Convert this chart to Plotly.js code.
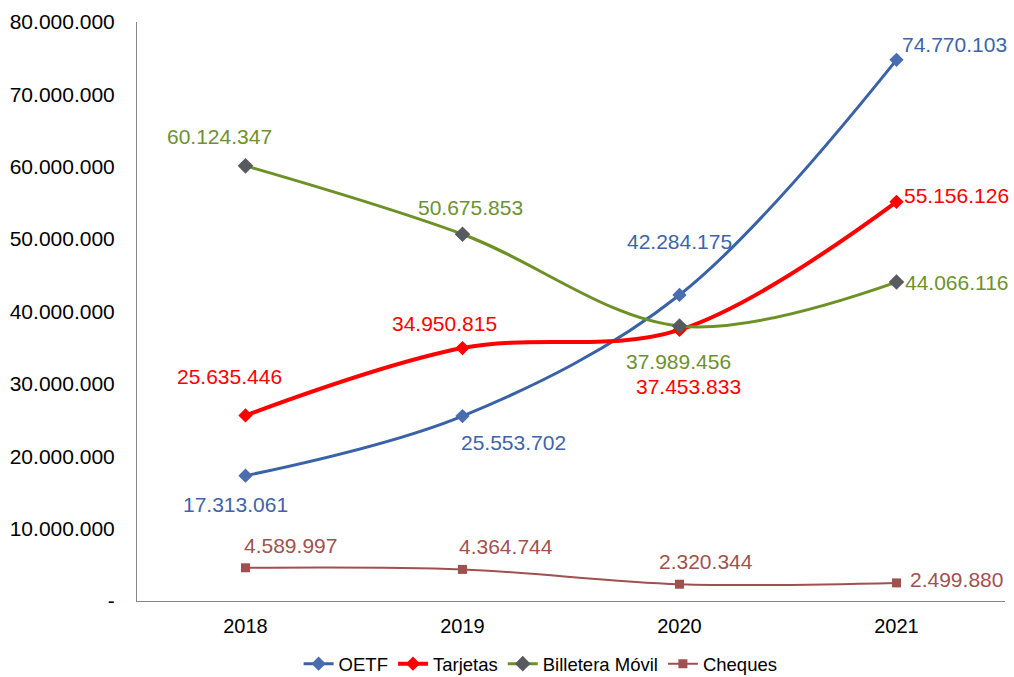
<!DOCTYPE html>
<html>
<head>
<meta charset="utf-8">
<script src="https://cdn.plot.ly/plotly-3.0.1.min.js"></script>
<style>html,body{margin:0;padding:0;background:#fff;}#chart{width:1014px;height:677px;}</style>
</head>
<body>
<div id="chart"></div>
<script>
var years = ['2018', '2019', '2020', '2021'];
var oetf = [17313061, 25553702, 42284175, 74770103];
var tarjetas = [25635446, 34950815, 37453833, 55156126];
var billetera = [60124347, 50675853, 37989456, 44066116];
var cheques = [4589997, 4364744, 2320344, 2499880];
var yTickVals = [0, 10000000, 20000000, 30000000, 40000000, 50000000, 60000000, 70000000, 80000000];
var yTickText = ['-', '10.000.000', '20.000.000', '30.000.000', '40.000.000', '50.000.000', '60.000.000', '70.000.000', '80.000.000'];

var offOETF = [[-10, -29], [51, -26], [0, 53], [58, 15]];
var offTarj = [[-16, 39], [-18, 25], [9, -57], [60, 6]];
var offBill = [[-26, 29], [8, 27], [-1, -35], [60, 0]];
var offCheq = [[45, 22], [43, 23], [26, 23], [60, 3]];

function fmt(v) {
  var s = String(v), out = '';
  while (s.length > 3) { out = '.' + s.slice(-3) + out; s = s.slice(0, -3); }
  return s + out;
}

var series = [
  {name: 'OETF', y: oetf, line: '#3A62A6', lw: 3, marker: '#4A6CB0', sym: 'diamond', ms: 11, label: '#3E64A8', off: offOETF},
  {name: 'Tarjetas', y: tarjetas, line: '#FF0000', lw: 4, marker: '#FF0000', sym: 'diamond', ms: 11, label: '#FF0000', off: offTarj},
  {name: 'Billetera Móvil', y: billetera, line: '#6E9127', lw: 3, marker: '#575B60', sym: 'diamond', ms: 12, label: '#6E9130', off: offBill},
  {name: 'Cheques', y: cheques, line: '#A0504F', lw: 2, marker: '#A0504F', sym: 'square', ms: 9, label: '#A0524F', off: offCheq}
];

var traces = [];
var annotations = [];
series.forEach(function (s) {
  traces.push({
    type: 'scatter',
    mode: 'lines+markers',
    name: s.name,
    x: years,
    y: s.y,
    line: {color: s.line, width: s.lw, shape: 'spline', smoothing: 1},
    marker: {color: s.marker, symbol: s.sym, size: s.ms},
    hoverinfo: 'skip'
  });
  s.y.forEach(function (v, i) {
    annotations.push({
      x: i, y: v, xref: 'x', yref: 'y',
      text: fmt(v), showarrow: false,
      xshift: s.off[i][0], yshift: s.off[i][1],
      font: {size: 21, color: s.label}
    });
  });
});

var layout = {
  width: 1014, height: 677,
  margin: {l: 137, r: 9, t: 22, b: 76, autoexpand: false},
  paper_bgcolor: '#ffffff', plot_bgcolor: '#ffffff',
  font: {family: 'Liberation Sans', size: 21, color: '#000000'},
  showlegend: true,
  legend: {orientation: 'h', x: 0.465, xanchor: 'center', y: -0.109, yanchor: 'middle',
           font: {size: 18.5, color: '#000000'}, itemwidth: 30},
  xaxis: {type: 'category', range: [-0.5, 3.5], showline: true, linecolor: '#868686', linewidth: 1,
          showgrid: false, zeroline: false, ticks: '', tickfont: {size: 20}, ticklabelstandoff: 7},
  yaxis: {range: [0, 80000000], showline: true, linecolor: '#868686', linewidth: 1, showgrid: false,
          zeroline: false, ticks: '', tickvals: yTickVals, ticktext: yTickText, tickfont: {size: 21},
          ticklabelstandoff: 17},
  annotations: annotations
};

Plotly.newPlot('chart', traces, layout, {displayModeBar: false});
</script>
</body>
</html>
